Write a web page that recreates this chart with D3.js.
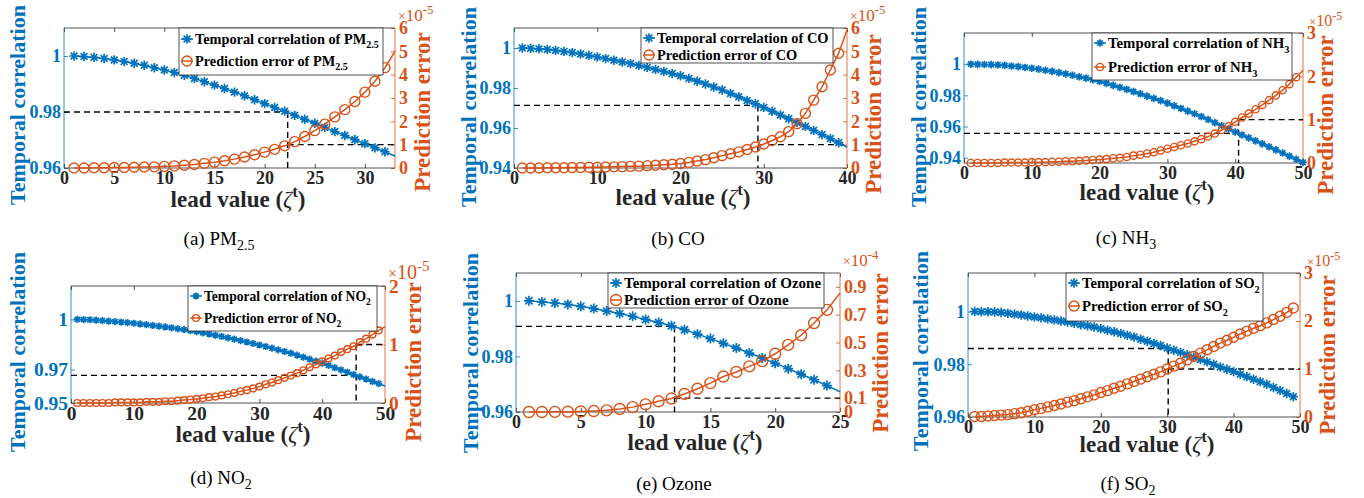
<!DOCTYPE html>
<html>
<head>
<meta charset="utf-8">
<script src="https://cdn.jsdelivr.net/npm/d3@7"></script>
<style>
  body { margin: 0; background: #fff; }
  svg { display: block; font-family: "Liberation Serif", "Times New Roman", serif; }
  text { font-family: "Liberation Serif", "Times New Roman", serif; }
</style>
</head>
<body>
<svg id="fig" width="1364" height="498"></svg>
<script>
const BLUE = "#0072BD", ORANGE = "#D95319", DARK = "#262626";

// ---- data (lead value = index + 1); prediction error in units of the axis exponent ----
// (a) PM2.5
const corrPM25 = [1.0000, 0.9998, 0.9995, 0.9991, 0.9986, 0.9980, 0.9974, 0.9967, 0.9958, 0.9950,
  0.9941, 0.9931, 0.9920, 0.9908, 0.9896, 0.9884, 0.9871, 0.9858, 0.9844, 0.9830,
  0.9816, 0.9803, 0.9788, 0.9774, 0.9760, 0.9745, 0.9730, 0.9716, 0.9701, 0.9687,
  0.9672, 0.9658, 0.9643];
const errPM25 = [0.00, 0.00, 0.01, 0.01, 0.02, 0.02, 0.03, 0.04, 0.05, 0.07,
  0.09, 0.12, 0.15, 0.20, 0.25, 0.31, 0.38, 0.47, 0.57, 0.68,
  0.80, 0.95, 1.13, 1.35, 1.60, 1.88, 2.19, 2.50, 2.85, 3.25,
  3.72, 4.30, 5.00];

// (b) CO
const corrCO = [1.0000, 0.9998, 0.9996, 0.9993, 0.9988, 0.9983, 0.9977, 0.9970, 0.9963, 0.9955,
  0.9947, 0.9939, 0.9930, 0.9922, 0.9913, 0.9903, 0.9893, 0.9883, 0.9872, 0.9861,
  0.9848, 0.9834, 0.9820, 0.9805, 0.9790, 0.9773, 0.9756, 0.9738, 0.9721, 0.9703,
  0.9684, 0.9665, 0.9646, 0.9627, 0.9608, 0.9588, 0.9567, 0.9547, 0.9526, 0.9505];
const errCO = [0.00, 0.00, 0.00, 0.01, 0.01, 0.01, 0.02, 0.02, 0.03, 0.03,
  0.04, 0.05, 0.06, 0.07, 0.08, 0.10, 0.12, 0.14, 0.16, 0.19,
  0.24, 0.30, 0.36, 0.44, 0.53, 0.61, 0.69, 0.79, 0.90, 1.03,
  1.18, 1.34, 1.56, 1.90, 2.34, 2.91, 3.48, 4.20, 4.92, 5.91];

// (c) NH3
const corrNH3 = [1.0000, 0.9999, 0.9998, 0.9997, 0.9995, 0.9992, 0.9988, 0.9984, 0.9979, 0.9974,
  0.9968, 0.9961, 0.9954, 0.9946, 0.9938, 0.9929, 0.9919, 0.9910, 0.9900, 0.9889,
  0.9877, 0.9864, 0.9851, 0.9838, 0.9824, 0.9810, 0.9795, 0.9781, 0.9766, 0.9750,
  0.9733, 0.9716, 0.9699, 0.9682, 0.9664, 0.9645, 0.9625, 0.9605, 0.9585, 0.9565,
  0.9546, 0.9527, 0.9508, 0.9489, 0.9470, 0.9450, 0.9430, 0.9410, 0.9390, 0.9370];
const errNH3 = [0.00, 0.00, 0.00, 0.00, 0.00, 0.01, 0.01, 0.01, 0.01, 0.02,
  0.02, 0.02, 0.03, 0.03, 0.04, 0.04, 0.05, 0.06, 0.07, 0.08,
  0.09, 0.11, 0.12, 0.14, 0.17, 0.19, 0.22, 0.25, 0.29, 0.33,
  0.37, 0.41, 0.45, 0.50, 0.55, 0.61, 0.68, 0.76, 0.85, 0.95,
  1.05, 1.14, 1.24, 1.34, 1.45, 1.56, 1.68, 1.82, 1.98, 2.14];

// (d) NO2
const corrNO2 = [1.0000, 0.9999, 0.9998, 0.9996, 0.9993, 0.9990, 0.9987, 0.9984, 0.9981, 0.9977,
  0.9973, 0.9969, 0.9964, 0.9960, 0.9955, 0.9950, 0.9944, 0.9939, 0.9933, 0.9927,
  0.9920, 0.9913, 0.9905, 0.9898, 0.9890, 0.9882, 0.9873, 0.9865, 0.9856, 0.9847,
  0.9838, 0.9828, 0.9818, 0.9808, 0.9798, 0.9786, 0.9774, 0.9762, 0.9750, 0.9738,
  0.9725, 0.9711, 0.9698, 0.9684, 0.9670, 0.9656, 0.9643, 0.9629, 0.9616, 0.9602];
const errNO2 = [0.00, 0.00, 0.00, 0.00, 0.00, 0.00, 0.01, 0.01, 0.01, 0.01,
  0.01, 0.02, 0.02, 0.02, 0.03, 0.03, 0.04, 0.05, 0.06, 0.07,
  0.08, 0.10, 0.11, 0.13, 0.15, 0.17, 0.20, 0.22, 0.25, 0.28,
  0.32, 0.35, 0.39, 0.43, 0.47, 0.51, 0.56, 0.61, 0.66, 0.71,
  0.76, 0.81, 0.87, 0.92, 0.97, 1.04, 1.10, 1.17, 1.24, 1.30];

// (e) Ozone
const corrOzone = [1.0000, 0.9996, 0.9992, 0.9987, 0.9980, 0.9972, 0.9963, 0.9954, 0.9944, 0.9933,
  0.9922, 0.9910, 0.9896, 0.9880, 0.9864, 0.9847, 0.9830, 0.9812, 0.9794, 0.9775,
  0.9756, 0.9736, 0.9716, 0.9695, 0.9673];
const errOzone = [0.000, 0.000, 0.001, 0.002, 0.004, 0.007, 0.012, 0.022, 0.035, 0.055,
  0.077, 0.097, 0.130, 0.167, 0.208, 0.255, 0.288, 0.328, 0.366, 0.419,
  0.483, 0.552, 0.640, 0.735, 0.855];

// (f) SO2
const corrSO2 = [1.0000, 0.9999, 0.9999, 0.9998, 0.9996, 0.9993, 0.9990, 0.9987, 0.9983, 0.9979,
  0.9976, 0.9972, 0.9968, 0.9964, 0.9960, 0.9955, 0.9950, 0.9946, 0.9941, 0.9935,
  0.9929, 0.9923, 0.9917, 0.9910, 0.9903, 0.9895, 0.9887, 0.9879, 0.9871, 0.9862,
  0.9853, 0.9845, 0.9836, 0.9827, 0.9818, 0.9809, 0.9800, 0.9790, 0.9781, 0.9772,
  0.9762, 0.9753, 0.9743, 0.9734, 0.9724, 0.9712, 0.9701, 0.9689, 0.9677];
const errSO2 = [0.01, 0.01, 0.02, 0.03, 0.04, 0.05, 0.07, 0.09, 0.12, 0.15,
  0.18, 0.21, 0.24, 0.27, 0.31, 0.34, 0.38, 0.42, 0.46, 0.51,
  0.55, 0.60, 0.64, 0.69, 0.74, 0.79, 0.84, 0.89, 0.94, 1.00,
  1.06, 1.12, 1.19, 1.26, 1.33, 1.40, 1.47, 1.54, 1.60, 1.66,
  1.73, 1.79, 1.85, 1.90, 1.96, 2.03, 2.10, 2.18, 2.27];

// tick values
const xTicks5to30 = [0, 5, 10, 15, 20, 25, 30];
const xTicks10to40 = [0, 10, 20, 30, 40];
const xTicks10to50 = [0, 10, 20, 30, 40, 50];
const xTicks5to25 = [0, 5, 10, 15, 20, 25];
const corrTicks3 = [0.96, 0.98, 1];
const corrTicks4 = [0.94, 0.96, 0.98, 1];
const corrTicksNO2 = [0.95, 0.97, 1];
const errTicks6 = [0, 1, 2, 3, 4, 5, 6];
const errTicks3 = [0, 1, 2, 3];
const errTicks2 = [0, 1, 2];
const errTicksOzone = [0, 0.1, 0.3, 0.5, 0.7, 0.9];

// threshold guides: [lead, correlation, error]
const cutPM25 = [22.3, 0.98, 1];
const cutCO = [29.3, 0.9713, 1];
const cutNH3 = [40.5, 0.9556, 1];
const cutNO2 = [45.4, 0.9665, 1];
const cutOzone = [12.23, 0.9908, 0.1];
const cutSO2 = [30.15, 0.986, 1];

// ---- panel setup ----
const panels = [
  { tag: "(a)", name: "PM", sub: "2.5", corr: corrPM25, err: errPM25, xMax: 33,
    corrDomain: [0.96, 1.01], errDomain: [0, 6], xTicks: xTicks5to30, corrTicks: corrTicks3, errTicks: errTicks6,
    exp: "-5", cut: cutPM25, corrMarks: 32, errMarks: 32,
    box: { l: 64, r: 395, t: 28, b: 168 }, starR: 4.7, circR: 5,
    leg: { x: 179, y: 28, w: 204, h: 47, r1: 39, r2: 61, fs: 14.3 },
    yl: [17, 105], yr: [422, 112], xl: [238, 207], cap: [219, 245], tf: 18, ef: 17, ex: 3 },
  { tag: "(b)", name: "CO", sub: "", corr: corrCO, err: errCO, xMax: 40,
    corrDomain: [0.94, 1.01], errDomain: [0, 6], xTicks: xTicks10to40, corrTicks: corrTicks4, errTicks: errTicks6,
    exp: "-5", cut: cutCO, corrMarks: 39, errMarks: 39,
    box: { l: 514, r: 847, t: 28, b: 168 }, starR: 4.7, circR: 5,
    leg: { x: 641, y: 28, w: 192, h: 35, r1: 38, r2: 55, fs: 14.4 },
    yl: [468, 107], yr: [873, 114], xl: [683, 205], cap: [678, 245], tf: 18, ef: 17, ex: 3 },
  { tag: "(c)", name: "NH", sub: "3", corr: corrNH3, err: errNH3, xMax: 50,
    corrDomain: [0.9366, 1.02], errDomain: [0, 3], xTicks: xTicks10to50, corrTicks: corrTicks4, errTicks: errTicks3,
    exp: "-5", cut: cutNH3, corrMarks: 50, errMarks: 49,
    box: { l: 964, r: 1303, t: 33, b: 163 }, starR: 3.8, circR: 3.6,
    leg: { x: 1092, y: 33, w: 200, h: 47, r1: 43, r2: 67, fs: 14.8 },
    yl: [918, 107], yr: [1325, 115], xl: [1147, 200], cap: [1126, 244], tf: 18, ef: 16, ex: 6 },
  { tag: "(d)", name: "NO", sub: "2", corr: corrNO2, err: errNO2, xMax: 50,
    corrDomain: [0.95, 1.02], errDomain: [0, 2], xTicks: xTicks10to50, corrTicks: corrTicksNO2, errTicks: errTicks2,
    exp: "-5", cut: cutNO2, corrMarks: 49, errMarks: 49,
    box: { l: 71, r: 385, t: 286, b: 403 }, starR: 3.6, circR: 3.4,
    leg: { x: 188, y: 286, w: 189, h: 45, r1: 296, r2: 318, fs: 13.6 },
    yl: [17, 352], yr: [413, 362], xl: [243, 442], cap: [221, 484], tf: 19.5, ef: 20, ex: 3 },
  { tag: "(e)", name: "Ozone", sub: "", corr: corrOzone, err: errOzone, xMax: 25,
    corrDomain: [0.96, 1.01], errDomain: [0, 1], xTicks: xTicks5to25, corrTicks: corrTicks3, errTicks: errTicksOzone,
    exp: "-4", cut: cutOzone, corrMarks: 24, errMarks: 24,
    box: { l: 516, r: 840, t: 273, b: 412 }, starR: 5, circR: 5.5,
    leg: { x: 608, y: 273, w: 216, h: 35, r1: 283, r2: 300, fs: 15 },
    yl: [470, 353], yr: [880, 353], xl: [695, 450], cap: [674, 490], tf: 18, ef: 17, ex: 3 },
  { tag: "(f)", name: "SO", sub: "2", corr: corrSO2, err: errSO2, xMax: 50,
    corrDomain: [0.96, 1.0146], errDomain: [0, 3], xTicks: xTicks10to50, corrTicks: corrTicks3, errTicks: errTicks3,
    exp: "-5", cut: cutSO2, corrMarks: 49, errMarks: 49,
    box: { l: 968, r: 1300, t: 273, b: 417 }, starR: 4.7, circR: 5,
    leg: { x: 1066, y: 273, w: 197, h: 48, r1: 283, r2: 306, fs: 14.7 },
    yl: [920, 351], yr: [1327, 355], xl: [1147, 452], cap: [1128, 490], tf: 18, ef: 16, ex: 7 }
];

const svg = d3.select("#fig");

function starPath(r) {
  const k = r * 0.72;
  return `M${-r},0L${r},0M0,${-r}L0,${r}M${-k},${-k}L${k},${k}M${-k},${k}L${k},${-k}`;
}

function styleAxis(ax, color, fs) {
  ax.attr("font-family", null).attr("font-size", null);
  ax.select(".domain").remove();
  ax.selectAll("line").attr("stroke", color).attr("stroke-width", 0.8);
  ax.selectAll("text").attr("fill", color)
    .style("font-size", fs + "px").style("font-weight", "bold");
}

function nameText(sel, before, p, fs) {
  sel.append("tspan").text(before + p.name);
  if (p.sub) {
    sel.append("tspan").attr("dy", fs * 0.3).style("font-size", (fs * 0.7) + "px").text(p.sub);
  }
}

function drawPanel(p) {
  const b = p.box;
  const g = svg.append("g");
  const x = d3.scaleLinear().domain([0, p.xMax]).range([b.l, b.r]);
  const yL = d3.scaleLinear().domain(p.corrDomain).range([b.b, b.t]);
  const yR = d3.scaleLinear().domain(p.errDomain).range([b.b, b.t]);

  // axes with inward ticks
  const axB = g.append("g").attr("transform", `translate(0,${b.b})`)
    .call(d3.axisBottom(x).tickValues(p.xTicks).tickSizeInner(-4).tickSizeOuter(0).tickPadding(3).tickFormat(d => d));
  styleAxis(axB, DARK, p.tf);
  const axT = g.append("g").attr("transform", `translate(0,${b.t})`)
    .call(d3.axisTop(x).tickValues(p.xTicks).tickSizeInner(-4).tickSizeOuter(0).tickFormat(""));
  styleAxis(axT, DARK, p.tf);
  const axL = g.append("g").attr("transform", `translate(${b.l},0)`)
    .call(d3.axisLeft(yL).tickValues(p.corrTicks).tickSizeInner(-4).tickSizeOuter(0).tickPadding(3).tickFormat(d => String(d)));
  styleAxis(axL, BLUE, p.tf);
  const axR = g.append("g").attr("transform", `translate(${b.r},0)`)
    .call(d3.axisRight(yR).tickValues(p.errTicks).tickSizeInner(-4).tickSizeOuter(0).tickPadding(4).tickFormat(d => String(d)));
  styleAxis(axR, ORANGE, p.tf);

  // frame
  g.append("line").attr("x1", b.l).attr("x2", b.r).attr("y1", b.t).attr("y2", b.t).attr("stroke", DARK).attr("stroke-width", 0.8);
  g.append("line").attr("x1", b.l).attr("x2", b.r).attr("y1", b.b).attr("y2", b.b).attr("stroke", DARK).attr("stroke-width", 0.8);
  g.append("line").attr("x1", b.l).attr("x2", b.l).attr("y1", b.t).attr("y2", b.b).attr("stroke", BLUE).attr("stroke-width", 0.8);
  g.append("line").attr("x1", b.r).attr("x2", b.r).attr("y1", b.t).attr("y2", b.b).attr("stroke", ORANGE).attr("stroke-width", 0.8);

  // dashed threshold guides
  const xc = x(p.cut[0]), yc = yL(p.cut[1]), ye = yR(p.cut[2]);
  g.append("path")
    .attr("d", `M${b.l},${yc}H${xc}M${xc},${Math.min(yc, ye)}V${b.b}M${xc},${ye}H${b.r}`)
    .attr("fill", "none").attr("stroke", "#000").attr("stroke-width", 1.4).attr("stroke-dasharray", "6,4");

  // correlation series
  g.append("path").datum(p.corr)
    .attr("d", d3.line().x((d, i) => x(i + 1)).y(d => yL(d)))
    .attr("fill", "none").attr("stroke", BLUE).attr("stroke-width", 1.5);
  g.selectAll(null).data(p.corr.slice(0, p.corrMarks)).join("path")
    .attr("transform", (d, i) => `translate(${x(i + 1)},${yL(d)})`)
    .attr("d", starPath(p.starR))
    .attr("fill", "none").attr("stroke", BLUE).attr("stroke-width", 1.7);

  // prediction error series
  g.append("path").datum(p.err)
    .attr("d", d3.line().x((d, i) => x(i + 1)).y(d => yR(d)))
    .attr("fill", "none").attr("stroke", ORANGE).attr("stroke-width", 1.5);
  g.selectAll(null).data(p.err.slice(0, p.errMarks)).join("circle")
    .attr("cx", (d, i) => x(i + 1)).attr("cy", d => yR(d)).attr("r", p.circR)
    .attr("fill", "none").attr("stroke", ORANGE).attr("stroke-width", 1.4);

  // legend
  const L = p.leg;
  g.append("rect").attr("x", L.x).attr("y", L.y).attr("width", L.w).attr("height", L.h)
    .attr("fill", "#fff").attr("stroke", DARK).attr("stroke-width", 0.8);
  [[L.r1, "Temporal correlation of ", BLUE, "star"], [L.r2, "Prediction error of ", ORANGE, "circle"]]
    .forEach(([ry, label, col, kind]) => {
      g.append("line").attr("x1", L.x + 2).attr("x2", L.x + 14).attr("y1", ry).attr("y2", ry)
        .attr("stroke", col).attr("stroke-width", 1.5);
      if (kind === "star") {
        g.append("path").attr("transform", `translate(${L.x + 8},${ry})`).attr("d", starPath(p.starR))
          .attr("fill", "none").attr("stroke", col).attr("stroke-width", 1.7);
      } else {
        g.append("circle").attr("cx", L.x + 8).attr("cy", ry).attr("r", p.circR)
          .attr("fill", "none").attr("stroke", col).attr("stroke-width", 1.4);
      }
      const t = g.append("text").attr("x", L.x + 16).attr("y", ry).attr("dy", "0.35em")
        .style("font-size", L.fs + "px").style("font-weight", "bold").attr("fill", "#000");
      nameText(t, label, p, L.fs);
    });

  // exponent label
  const e = g.append("text").attr("x", b.r + p.ex).attr("y", b.t - 7).attr("fill", ORANGE)
    .style("font-size", p.ef + "px");
  e.append("tspan").style("font-size", (p.ef * 0.8) + "px").text("×");
  e.append("tspan").text("10");
  e.append("tspan").attr("dy", -p.ef * 0.4).style("font-size", (p.ef * 0.75) + "px").text(p.exp);

  // axis titles
  g.append("text").attr("transform", `translate(${p.yl[0]},${p.yl[1]}) rotate(-90)`)
    .attr("text-anchor", "middle").attr("dy", "0.35em").attr("fill", BLUE)
    .style("font-size", "22px").style("font-weight", "bold").text("Temporal correlation");
  g.append("text").attr("transform", `translate(${p.yr[0]},${p.yr[1]}) rotate(-90)`)
    .attr("text-anchor", "middle").attr("dy", "0.35em").attr("fill", ORANGE)
    .style("font-size", "23px").style("font-weight", "bold").text("Prediction error");
  const xt = g.append("text").attr("x", p.xl[0]).attr("y", p.xl[1]).attr("text-anchor", "middle")
    .attr("fill", DARK).style("font-size", "23px").style("font-weight", "bold");
  xt.append("tspan").text("lead value (");
  xt.append("tspan").style("font-style", "italic").style("font-weight", "normal").text("ζ");
  xt.append("tspan").attr("dy", -10).style("font-size", "16px").text("t");
  xt.append("tspan").attr("dy", 10).text(")");

  // caption
  const c = g.append("text").attr("x", p.cap[0]).attr("y", p.cap[1]).attr("text-anchor", "middle")
    .attr("fill", "#000").style("font-size", "19px");
  c.append("tspan").text(p.tag + " " + p.name);
  if (p.sub) c.append("tspan").attr("dy", 5).style("font-size", "14px").text(p.sub);
}

panels.forEach(drawPanel);
</script>
</body>
</html>
